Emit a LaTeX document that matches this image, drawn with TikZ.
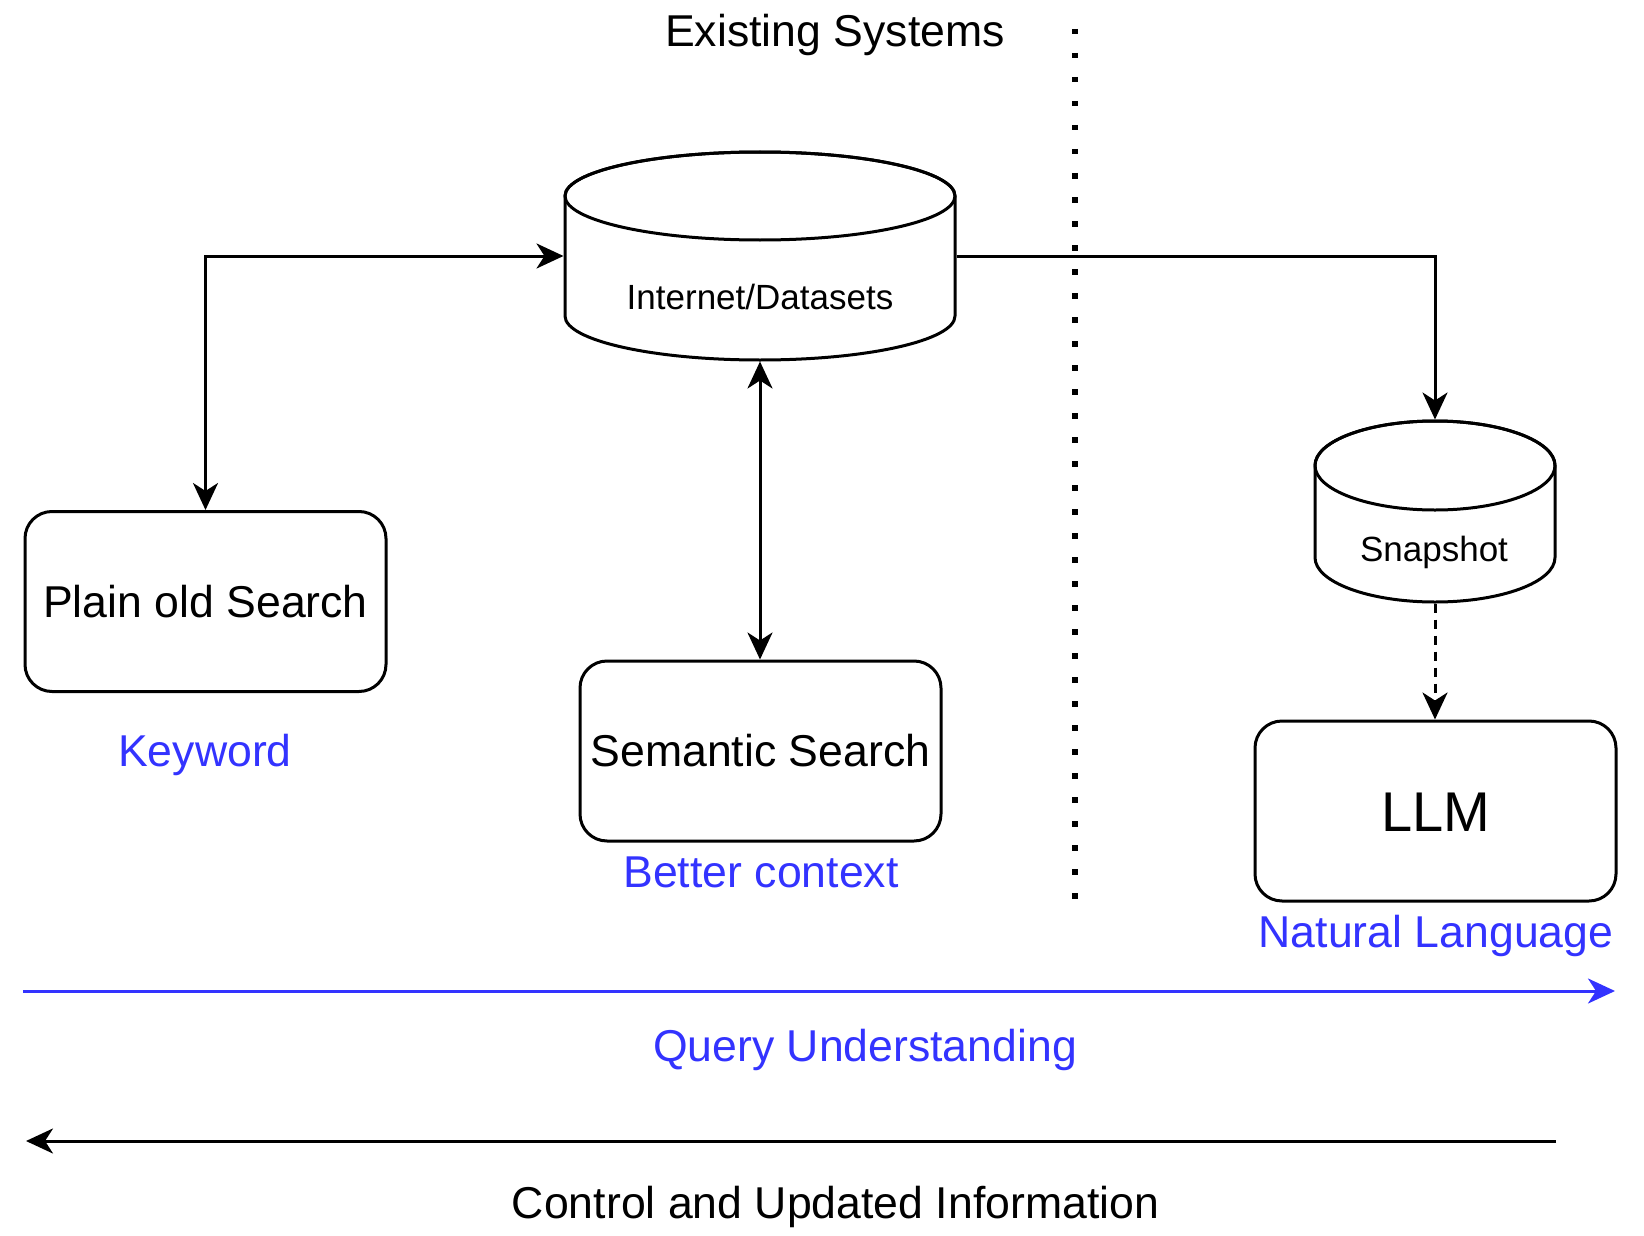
\documentclass[tikz,border=0pt]{standalone}
\usepackage{fontspec}
\setmainfont{Liberation Sans}
\usetikzlibrary{arrows.meta}
\definecolor{qblue}{RGB}{51,51,255}
\begin{document}
\begin{tikzpicture}[x=1pt,y=-1pt,line width=3pt,
  box/.style={draw, rounded corners=27pt, minimum width=361pt, minimum height=180pt,
    inner sep=0pt, font=\fontsize{44.6}{50}\selectfont, text height=31.9pt, text depth=0pt},
  lbl/.style={inner sep=0pt, text height=31.9pt, text depth=0pt, font=\fontsize{44.6}{50}\selectfont},
  small/.style={inner sep=0pt, text height=25pt, text depth=0pt, font=\fontsize{35}{40}\selectfont},
  tip/.style={-{Stealth[length=27pt,width=25pt,inset=8pt]}},
  bothtip/.style={{Stealth[length=27pt,width=25pt,inset=8pt]}-{Stealth[length=27pt,width=25pt,inset=8pt]}},
  dotline/.style={line width=5.5pt, dash pattern=on 5.5pt off 18.5pt},
  dashline/.style={dash pattern=on 9pt off 7pt}]
\useasboundingbox (0,0) rectangle (1644,1236);

% big cylinder
\draw[fill=white] (565,196) -- (565,316) arc[start angle=180, end angle=0, x radius=195, y radius=44]
  -- (955,196) arc[start angle=0, end angle=-180, x radius=195, y radius=44] -- cycle;
\draw (760,196) ellipse[x radius=195, y radius=44];
\node[inner sep=0pt, minimum width=390pt, minimum height=208pt] (db) at (760,256) {};
\node[small] (dbl) at (760,297) {Internet/Datasets};

% snapshot cylinder
\draw[fill=white] (1315,465.5) -- (1315,557.5) arc[start angle=180, end angle=0, x radius=120, y radius=44.5]
  -- (1555,465.5) arc[start angle=0, end angle=-180, x radius=120, y radius=44.5] -- cycle;
\draw (1435,465.5) ellipse[x radius=120, y radius=44.5];
\node[inner sep=0pt, minimum width=240pt, minimum height=181pt] (snap) at (1435,511.5) {};
\node[small] (snapl) at (1434,549) {Snapshot};

% boxes
\node[box] (plain) at (205.5,601.5) {Plain old Search};
\node[box] (sem) at (760.5,751) {Semantic Search};
\node[box, font=\fontsize{56}{62}\selectfont, text height=40pt] (llm) at (1435.5,811) {LLM};

% labels
\node[lbl] (title) at (835,31) {Existing Systems};
\node[lbl, text=qblue] (kw) at (205,751) {Keyword};
\node[lbl, text=qblue] (bc) at (761,872) {Better context};
\node[lbl, text=qblue] (nl) at (1436,932) {Natural Language};
\node[lbl, text=qblue] (qu) at (865,1046) {Query Understanding};
\node[lbl] (cu) at (835.5,1202.5) {Control and Updated Information};

% connectors
\draw[bothtip] (plain.north) |- (db.west);
\draw[bothtip] (db.south) -- (db.south |- sem.north);
\draw[tip] (db.east) -| (snap.north);
\draw[tip, dashline] (snap.south) -- (snap.south |- llm.north);

% dotted divider
\coordinate (d1) at (1075,29);
\coordinate (d2) at (1075,903);
\draw[dotline] (d1) -- (d2);

% bottom arrows
\coordinate (qa) at (23,991);
\coordinate (qb) at (1615,991);
\draw[tip, qblue] (qa) -- (qb);
\coordinate (ca) at (1556,1141);
\coordinate (cb) at (26,1141);
\draw[tip] (ca) -- (cb);
\end{tikzpicture}
\end{document}
